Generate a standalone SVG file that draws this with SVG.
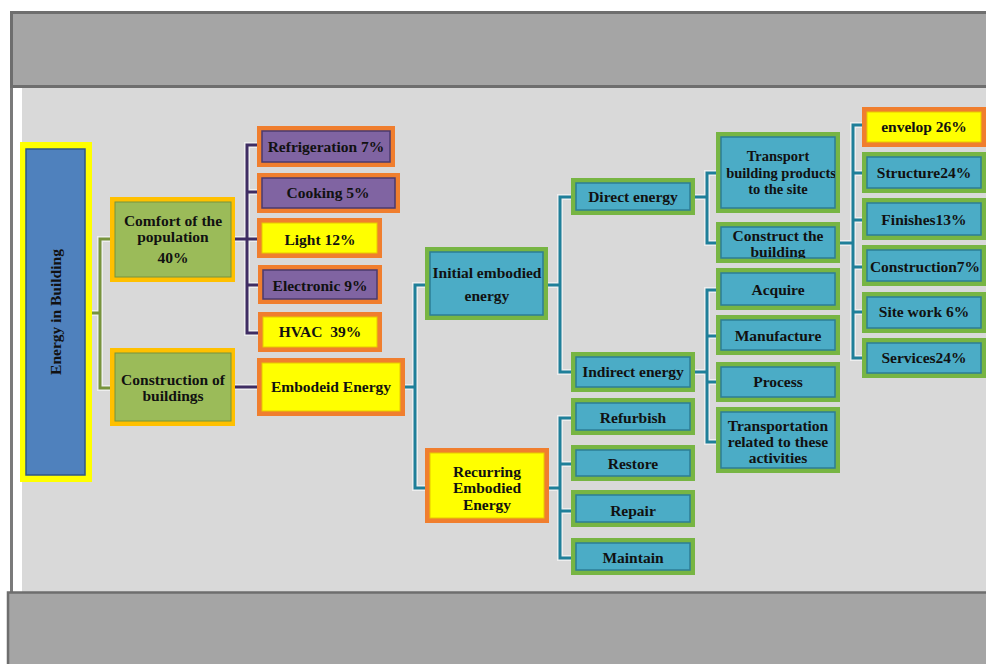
<svg xmlns="http://www.w3.org/2000/svg" xmlns:xlink="http://www.w3.org/1999/xlink" width="986" height="664" viewBox="0 0 986 664">
<style>
text{font-family:"Liberation Serif","Times New Roman",serif;font-weight:bold;font-size:15.5px;fill:#111;text-anchor:middle}
.sm{font-size:14.5px}
.oo{fill:#f07e2e}.oy{fill:#ffc000}.og{fill:#77b543}.oyl{fill:#ffff00}
.ip{fill:#8064a2;stroke:#4a3a6e;stroke-width:1.5}
.iy{fill:#ffff00;stroke:#e8c800;stroke-width:1}
.ig{fill:#9bbb59;stroke:#77933c;stroke-width:1}
.it{fill:#4bacc6;stroke:#2d7d95;stroke-width:1.5}
.ib{fill:#4f81bd;stroke:#2f5788;stroke-width:1.5}
.c{fill:none;stroke-width:3;stroke-linejoin:miter}
.halo{fill:none;stroke:#fff;stroke-width:6;stroke-opacity:.55}
.cg{stroke:#77933c}.cp{stroke:#3f2d63}.ct{stroke:#1f7f99}
</style>
<defs>
<clipPath id="clipTr"><rect x="721" y="137" width="114" height="71"/></clipPath>
<clipPath id="clipCo"><rect x="721" y="227" width="114" height="31"/></clipPath>
<path id="p1" d="M92,313H100M110,239H100V388H110"/>
<path id="p2" d="M235,239H257M257,145H247V333H258M247,192H257M247,285H258M235,387H257"/>
<path id="p3" d="M405,387H415M425,285H415V488H425"/>
<path id="p4" d="M548,285H560M571,197H560V372H571"/>
<path id="p5" d="M549,488H560M571,418H560V558H571M560,464H571M560,511H571"/>
<path id="p6" d="M695,197H707M716,173H707V243H716"/>
<path id="p7" d="M695,372H707M716,290H707V442H716M707,336H716M707,382H716"/>
<path id="p8" d="M840,243H853M862,125H853V358H862M853,173H862M853,220H862M853,267H862M853,312H862"/>
</defs>
<rect width="986" height="664" fill="#fff"/>
<g id="frame">
<rect x="22" y="88" width="970" height="504" fill="#d9d9d9"/>
<rect x="10" y="12" width="3" height="580" fill="#7a7a7a"/>
<rect x="11.5" y="12.5" width="990" height="74" fill="#a5a5a5" stroke="#6e6e6e" stroke-width="3"/>
<rect x="8" y="592.5" width="990" height="80" fill="#a5a5a5" stroke="#6e6e6e" stroke-width="2.5"/>
</g>
<g id="connectors">
<g class="halo"><use xlink:href="#p1"/><use xlink:href="#p2"/><use xlink:href="#p3"/><use xlink:href="#p4"/><use xlink:href="#p5"/><use xlink:href="#p6"/><use xlink:href="#p7"/><use xlink:href="#p8"/></g>
<use xlink:href="#p1" class="c cg"/>
<use xlink:href="#p2" class="c cp"/>
<use xlink:href="#p3" class="c ct"/><use xlink:href="#p4" class="c ct"/><use xlink:href="#p5" class="c ct"/><use xlink:href="#p6" class="c ct"/><use xlink:href="#p7" class="c ct"/><use xlink:href="#p8" class="c ct"/>
</g>
<g id="energy"><rect class="oyl" x="20" y="142" width="72" height="340"/><rect class="ib" x="26" y="149" width="59" height="326"/><text transform="translate(61,312) rotate(-90)">Energy in Building</text></g>
<g id="comfort"><rect class="oy" x="110" y="197" width="125" height="85"/><rect class="ig" x="115" y="202" width="116" height="75"/><text x="173" y="226">Comfort of the</text><text x="173" y="242">population</text><text x="173" y="263">40%</text></g>
<g id="construction"><rect class="oy" x="110" y="348" width="125" height="78"/><rect class="ig" x="115" y="353" width="116" height="68"/><text x="173" y="385">Construction of</text><text x="173" y="401">buildings</text></g>
<g id="refrigeration"><rect class="oo" x="257" y="126" width="138" height="41"/><rect class="ip" x="262" y="131" width="128" height="31"/><text x="326" y="152">Refrigeration 7%</text></g>
<g id="cooking"><rect class="oo" x="257" y="173" width="143" height="40"/><rect class="ip" x="262" y="178" width="133" height="30"/><text x="328" y="198">Cooking 5%</text></g>
<g id="light"><rect class="oo" x="257" y="218" width="125" height="40"/><rect class="iy" x="262" y="223" width="115" height="30"/><text x="320" y="245">Light 12%</text></g>
<g id="electronic"><rect class="oo" x="258" y="265" width="124" height="39"/><rect class="ip" x="263" y="270" width="114" height="29"/><text x="320" y="291">Electronic 9%</text></g>
<g id="hvac"><rect class="oo" x="258" y="312" width="124" height="40"/><rect class="iy" x="263" y="317" width="114" height="30"/><text x="320" y="337" xml:space="preserve">HVAC  39%</text></g>
<g id="embodeid"><rect class="oo" x="257" y="358" width="148" height="58"/><rect class="iy" x="262" y="363" width="138" height="48"/><text x="331" y="392">Embodeid Energy</text></g>
<g id="initial"><rect class="og" x="425" y="247" width="123" height="73"/><rect class="it" x="430" y="252" width="113" height="63"/><text x="487" y="278">Initial embodied</text><text x="487" y="301">energy</text></g>
<g id="recurring"><rect class="oo" x="425" y="448" width="124" height="75"/><rect class="iy" x="430" y="453" width="114" height="65"/><text x="487" y="477">Recurring</text><text x="487" y="493">Embodied</text><text x="487" y="510">Energy</text></g>
<g id="direct"><rect class="og" x="571" y="178" width="124" height="37"/><rect class="it" x="576" y="183" width="114" height="27"/><text x="633" y="202">Direct energy</text></g>
<g id="indirect"><rect class="og" x="571" y="352" width="124" height="40"/><rect class="it" x="576" y="357" width="114" height="30"/><text x="633" y="377">Indirect energy</text></g>
<g id="refurbish"><rect class="og" x="571" y="398" width="124" height="37"/><rect class="it" x="576" y="403" width="114" height="27"/><text x="633" y="423">Refurbish</text></g>
<g id="restore"><rect class="og" x="571" y="445" width="124" height="36"/><rect class="it" x="576" y="450" width="114" height="26"/><text x="633" y="469">Restore</text></g>
<g id="repair"><rect class="og" x="571" y="490" width="124" height="37"/><rect class="it" x="576" y="495" width="114" height="27"/><text x="633" y="516">Repair</text></g>
<g id="maintain"><rect class="og" x="571" y="538" width="124" height="37"/><rect class="it" x="576" y="543" width="114" height="27"/><text x="633" y="563">Maintain</text></g>
<g id="transport"><rect class="og" x="716" y="132" width="124" height="81"/><rect class="it" x="721" y="137" width="114" height="71"/><g clip-path="url(#clipTr)"><text class="sm" x="778" y="161">Transport</text><text class="sm" x="781" y="177.5">building products</text><text class="sm" x="778" y="194">to the site</text></g></g>
<g id="construct"><rect class="og" x="716" y="222" width="124" height="41"/><rect class="it" x="721" y="227" width="114" height="31"/><g clip-path="url(#clipCo)"><text x="778" y="241">Construct the</text><text x="778" y="257">building</text></g></g>
<g id="acquire"><rect class="og" x="716" y="268" width="124" height="42"/><rect class="it" x="721" y="273" width="114" height="32"/><text x="778" y="295">Acquire</text></g>
<g id="manufacture"><rect class="og" x="716" y="315" width="124" height="40"/><rect class="it" x="721" y="320" width="114" height="30"/><text x="778" y="341">Manufacture</text></g>
<g id="process"><rect class="og" x="716" y="362" width="124" height="40"/><rect class="it" x="721" y="367" width="114" height="30"/><text x="778" y="387">Process</text></g>
<g id="transportation"><rect class="og" x="716" y="407" width="124" height="66"/><rect class="it" x="721" y="412" width="114" height="56"/><text x="778" y="431">Transportation</text><text x="778" y="447">related to these</text><text x="778" y="463">activities</text></g>
<g id="envelop"><rect class="oo" x="862" y="107" width="126" height="40"/><rect class="iy" x="867" y="112" width="114" height="30"/><text x="924" y="132">envelop 26%</text></g>
<g id="structure"><rect class="og" x="862" y="152" width="126" height="41"/><rect class="it" x="867" y="157" width="114" height="31"/><text x="924" y="178">Structure24%</text></g>
<g id="finishes"><rect class="og" x="862" y="198" width="126" height="42"/><rect class="it" x="867" y="203" width="114" height="32"/><text x="924" y="225">Finishes13%</text></g>
<g id="construction7"><rect class="og" x="862" y="245" width="126" height="41"/><rect class="it" x="867" y="250" width="114" height="31"/><text x="925" y="272">Construction7%</text></g>
<g id="sitework"><rect class="og" x="862" y="292" width="126" height="41"/><rect class="it" x="867" y="297" width="114" height="31"/><text x="924" y="317">Site work 6%</text></g>
<g id="services"><rect class="og" x="862" y="338" width="126" height="40"/><rect class="it" x="867" y="343" width="114" height="30"/><text x="924" y="363">Services24%</text></g>
</svg>
